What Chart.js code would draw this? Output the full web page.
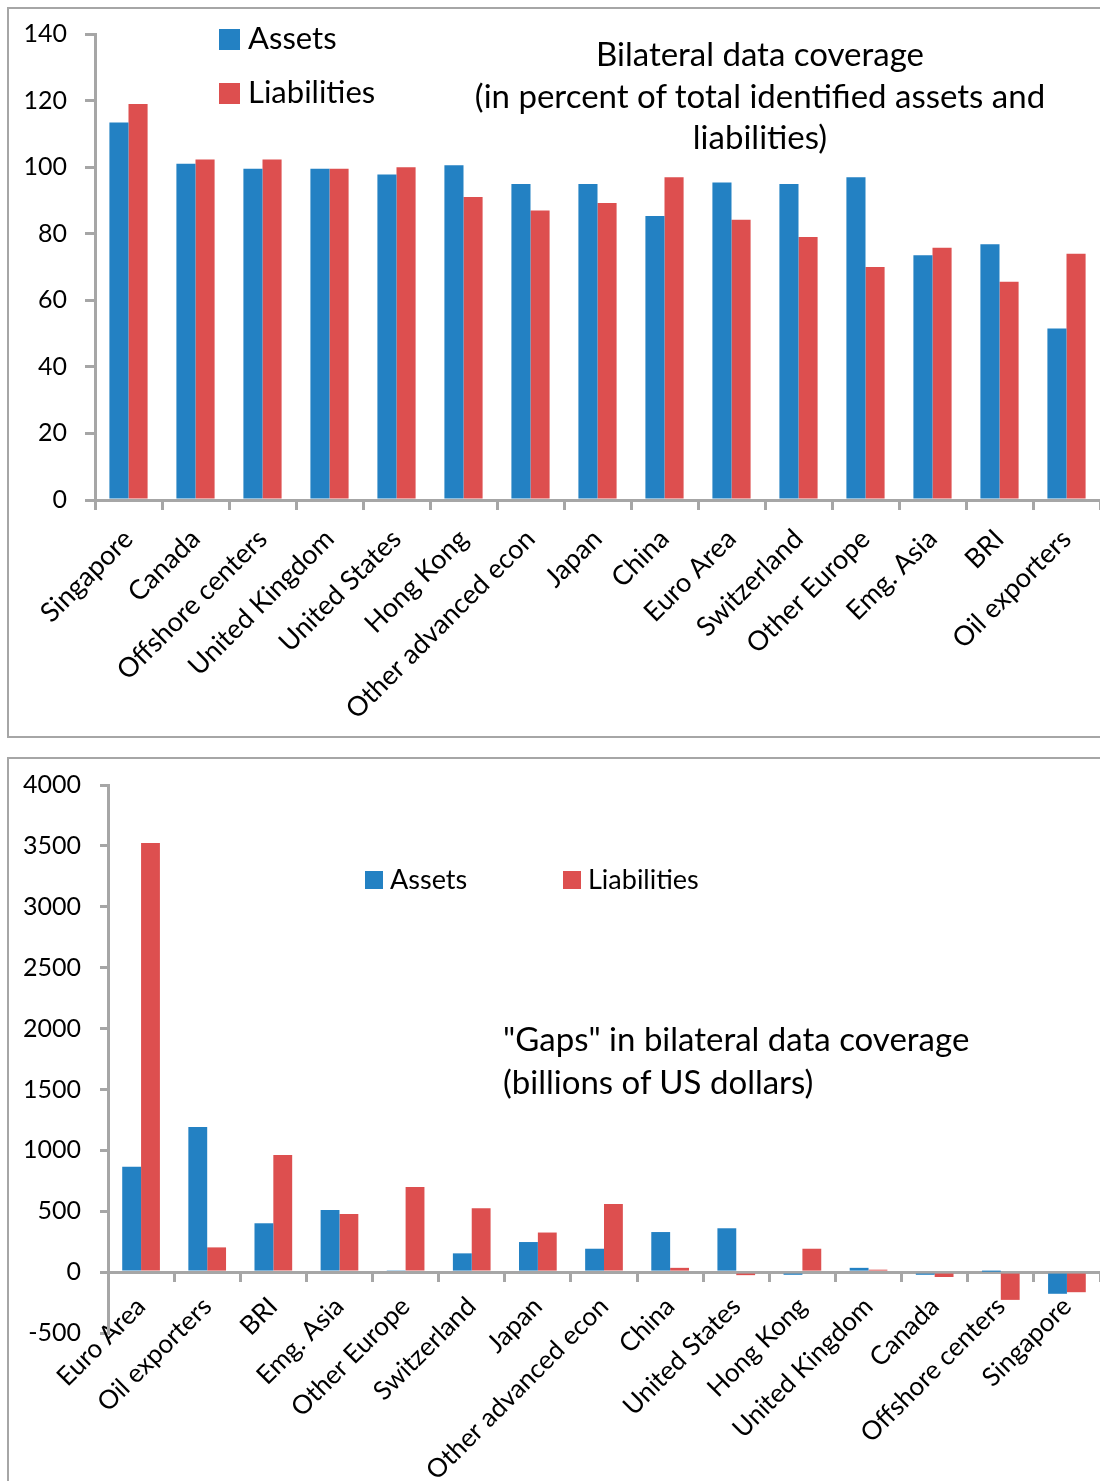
<!DOCTYPE html>
<html>
<head>
<meta charset="utf-8">
<script src="https://cdn.jsdelivr.net/npm/chart.js@4"></script>
<style>
  body { margin: 0; background: #fff; overflow: hidden; font-family: Lato, sans-serif; color: #000; }
  .panel { position: absolute; left: 7px; width: 1110px; border: 2px solid #a6a6a6; box-sizing: border-box; }
  #p1 { top: 7px; height: 731px; }
  #p2 { top: 757px; height: 740px; }
  .wrap { position: absolute; left: 0; width: 1100px; }
  .title { position: absolute; white-space: nowrap; }
  .key { position: absolute; white-space: nowrap; }
  .key i { display: inline-block; vertical-align: middle; position: relative; top: -2px; }
</style>
</head>
<body>
<div class="panel" id="p1"></div>
<div class="panel" id="p2"></div>

<div class="wrap" style="top:0;height:737px"><canvas id="top" width="1100" height="737"></canvas></div>
<div class="wrap" style="top:757px;height:724px"><canvas id="gap" width="1100" height="724"></canvas></div>

<div class="title" style="left:440px;top:33px;width:640px;text-align:center;font-size:33px;line-height:41.5px">
  Bilateral data coverage<br>(in percent of total identified assets and<br>liabilities)
</div>
<div class="key" style="left:219px;top:18px;font-size:31px"><i style="width:21px;height:21px;background:#2381c3;margin-right:8px"></i>Assets</div>
<div class="key" style="left:219px;top:72px;font-size:31px"><i style="width:21px;height:21px;background:#dd4f4f;margin-right:8px"></i>Liabilities</div>

<div class="title" style="left:503px;top:1017px;font-size:33px;line-height:43px">
  "Gaps" in bilateral data coverage<br>(billions of US dollars)
</div>
<div class="key" style="left:365px;top:862px;font-size:27px"><i style="width:18px;height:18px;background:#2381c3;margin-right:7px"></i>Assets</div>
<div class="key" style="left:563px;top:862px;font-size:27px"><i style="width:18px;height:18px;background:#dd4f4f;margin-right:7px"></i>Liabilities</div>

<script>
const coverageCountries = ['Singapore', 'Canada', 'Offshore centers', 'United Kingdom', 'United States',
  'Hong Kong', 'Other advanced econ', 'Japan', 'China', 'Euro Area', 'Switzerland', 'Other Europe',
  'Emg. Asia', 'BRI', 'Oil exporters'];
const coverageAssets = [113.4, 101, 99.5, 99.5, 97.8, 100.6, 94.9, 94.9, 85.3, 95.4, 94.9, 97, 73.5, 76.8, 51.5];
const coverageLiabilities = [119, 102.3, 102.3, 99.5, 100, 91, 87, 89.2, 97, 84.2, 79, 70, 75.8, 65.6, 74];

const gapCountries = ['Euro Area', 'Oil exporters', 'BRI', 'Emg. Asia', 'Other Europe', 'Switzerland',
  'Japan', 'Other advanced econ', 'China', 'United States', 'Hong Kong', 'United Kingdom', 'Canada',
  'Offshore centers', 'Singapore'];
const gapAssets = [865, 1192, 401, 511, 15, 154, 247, 192, 329, 360, -22, 35, -22, 3, -178];
const gapLiabilities = [3523, 203, 961, 478, 698, 525, 325, 560, 35, -25, 192, 20, -40, -228, -165];

const BLUE = '#2381c3';
const RED = '#dd4f4f';
const GREY = '#a6a6a6';
const FONT = 'Lato, sans-serif';

function bars(assets, liabilities) {
    return [
        { label: 'Assets', data: assets, backgroundColor: BLUE, borderWidth: 0 },
        { label: 'Liabilities', data: liabilities, backgroundColor: RED, borderWidth: 0 }
    ];
}

// fixed y-axis width, and don't let the tick labels push the plot area around
function fixY(width) {
    return s => { s.width = width; s.paddingTop = 0; s.paddingBottom = 0; };
}
function fixX(height) {
    return s => { s.height = height; s.paddingLeft = 0; s.paddingRight = 0; };
}

// top panel: coverage in percent
new Chart(document.getElementById('top'), {
    type: 'bar',
    data: { labels: coverageCountries, datasets: bars(coverageAssets, coverageLiabilities) },
    options: {
        responsive: false,
        animation: false,
        events: [],
        layout: { padding: { top: 34, left: 0, right: 0, bottom: 0 } },
        datasets: { bar: { categoryPercentage: 0.57, barPercentage: 1.0 } },
        plugins: { legend: { display: false }, tooltip: { enabled: false } },
        scales: {
            x: {
                grid: { offset: true, drawOnChartArea: false, tickLength: 10, color: GREY, lineWidth: 3 },
                border: { color: GREY, width: 3 },
                ticks: { minRotation: 45, maxRotation: 45, autoSkip: false, padding: 13,
                         color: '#000', font: { family: FONT, size: 27 } },
                afterFit: fixX(237)
            },
            y: {
                min: 0, max: 140,
                grid: { drawOnChartArea: false, tickLength: 10, color: GREY, lineWidth: 3 },
                border: { color: GREY, width: 3 },
                ticks: { stepSize: 20, padding: 18, color: '#000', font: { family: FONT, size: 25 } },
                afterFit: fixY(95)
            }
        }
    }
});

// bottom panel: gaps in billions of dollars
new Chart(document.getElementById('gap'), {
    type: 'bar',
    data: { labels: gapCountries, datasets: bars(gapAssets, gapLiabilities) },
    options: {
        responsive: false,
        animation: false,
        events: [],
        layout: { padding: { top: 28, left: 0, right: 0, bottom: 148 } },
        datasets: { bar: { categoryPercentage: 0.57, barPercentage: 1.0 } },
        plugins: { legend: { display: false }, tooltip: { enabled: false } },
        scales: {
            x: {
                position: { y: 0 },
                grid: { offset: true, drawOnChartArea: false, tickLength: 8, color: GREY, lineWidth: 3 },
                border: { color: GREY, width: 3 },
                ticks: { minRotation: 45, maxRotation: 45, autoSkip: false, padding: 11,
                         color: '#000', font: { family: FONT, size: 26 } },
                afterFit: fixX(0)
            },
            y: {
                min: -500, max: 4000,
                grid: { drawOnChartArea: false, tickLength: 8, color: GREY, lineWidth: 3 },
                border: { color: GREY, width: 3 },
                ticks: { stepSize: 500, padding: 19, color: '#000', font: { family: FONT, size: 25 },
                         callback: v => String(v) },
                afterFit: fixY(108)
            }
        }
    }
});
</script>
</body>
</html>
